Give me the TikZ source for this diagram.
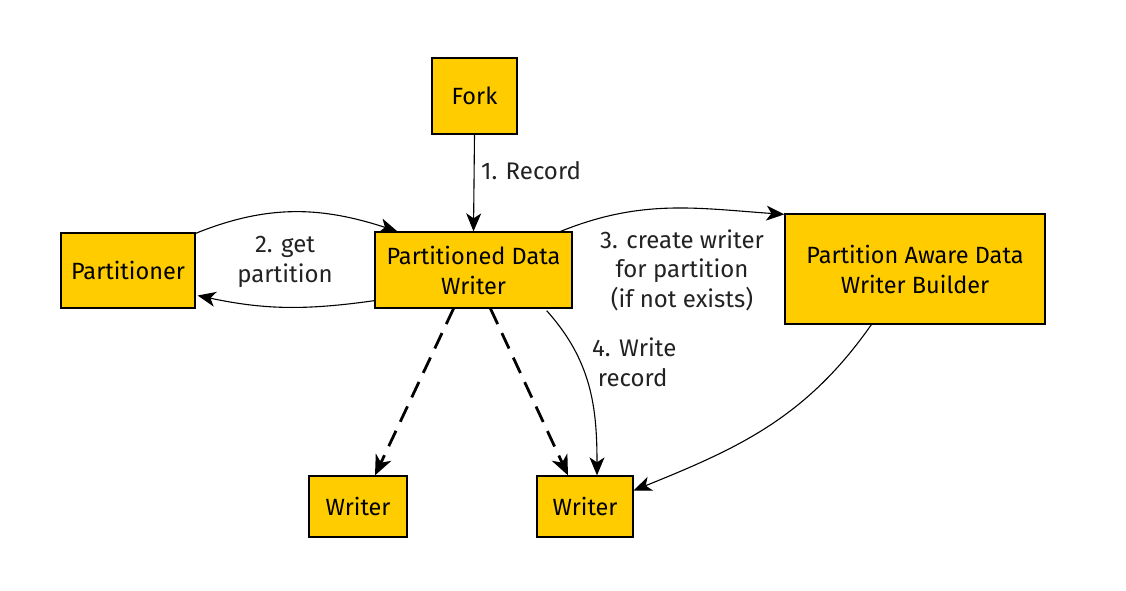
\documentclass[tikz,border=0pt]{standalone}
\usepackage{fontspec}
\setmainfont{Fira Sans}
\usetikzlibrary{arrows.meta,calc}
\definecolor{boxfill}{HTML}{FFCC00}
\definecolor{lbltext}{HTML}{222222}
\begin{document}
\begin{tikzpicture}[x=1pt,y=1pt,
  box/.style={draw=black,line width=1.3pt,fill=boxfill,inner sep=0pt,align=center,font=\fontsize{23.5}{30}\selectfont},
  lbl/.style={align=center,font=\fontsize{24}{29.5}\selectfont,text=lbltext,inner sep=0pt},
  conn/.style={line width=1.1pt,-{Stealth[length=18pt,width=15pt,inset=5pt]}},
  dconn/.style={line width=2.8pt,dash pattern=on 17pt off 10pt,-{Stealth[length=20pt,width=17pt,inset=6pt]}}]
\useasboundingbox (0,0) rectangle (1126,-590);
\node[box,minimum width=85pt,minimum height=76pt] (fork) at (474.5,-96) {Fork};
\node[box,minimum width=134pt,minimum height=75pt] (ptr) at (128,-270.5) {Partitioner};
\node[box,minimum width=197pt,minimum height=76pt] (pdw) at (473.5,-270) {Partitioned Data\\Writer};
\node[box,minimum width=260pt,minimum height=110pt] (pawb) at (915,-269) {Partition Aware Data\\Writer Builder};
\node[box,minimum width=98pt,minimum height=61pt] (w1) at (358,-506.5) {Writer};
\node[box,minimum width=96pt,minimum height=61pt] (w2) at (585,-506.5) {Writer};

\draw[conn] (fork.south) -- (pdw.north);
\node[lbl] (l1) at (531,-171) {1. Record};
\draw[conn] ($(ptr.north east)+(0,-1)$) to[out=22,in=162] ($(pdw.north west)+(23,0)$);
\draw[conn] ($(pdw.south west)+(0,8)$) to[out=188,in=-12] ($(ptr.east)+(2,-25)$);
\node[lbl] (l2) at (285,-262) {2. get\\partition};
\draw[conn] ($(pdw.north east)+(-12,0)$) to[out=22,in=176] ($(pawb.north west)+(0,-1)$);
\node[lbl] (l3) at (682,-270) {3. create writer\\for partition\\(if not exists)};
\draw[dconn] ($(pdw.south)+(-20,0)$) -- ($(w1.north)+(17,0)$);
\draw[dconn] ($(pdw.south)+(17,0)$) -- ($(w2.north)+(-17,0)$);
\draw[conn] ($(pdw.south east)+(-26,-2)$) to[out=-48,in=90] ($(w2.north)+(12,0)$);
\node[lbl,align=left,anchor=north west] (l4) at (592,-338) {4. Write\\\hphantom{.}record};
\draw[conn] ($(pawb.south west)+(87,0)$) to[out=-125,in=22] ($(w2.east)+(0,16)$);
\end{tikzpicture}
\end{document}
